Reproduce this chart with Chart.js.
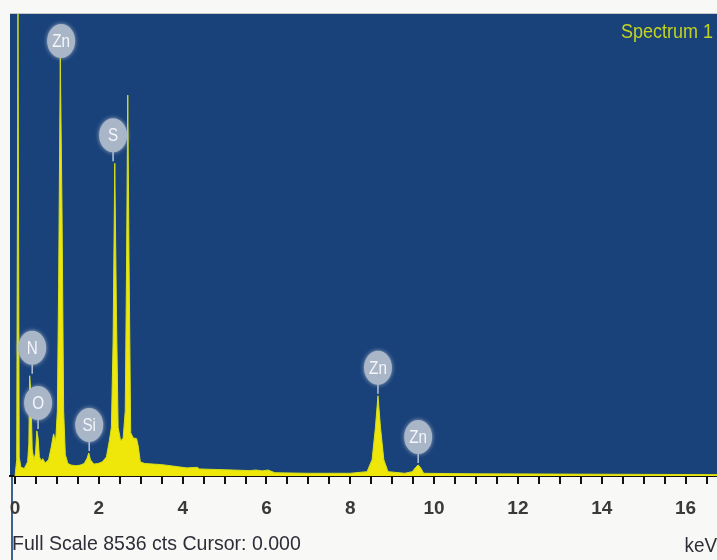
<!DOCTYPE html>
<html>
<head>
<meta charset="utf-8">
<script src="https://cdn.jsdelivr.net/npm/chart.js@4"></script>
<style>
  html, body { margin: 0; padding: 0; background: #f8f8f6; }
  #wrap { width: 717px; height: 560px; }
</style>
</head>
<body>
<div id="wrap"><canvas id="c" width="717" height="560"></canvas></div>
<script>
// spectrum, energy in keV and counts
var energy = [0.00, 0.04, 0.07, 0.10, 0.14, 0.22, 0.30, 0.33, 0.35, 0.38, 0.41, 0.45, 0.49, 0.52, 0.55, 0.58,
  0.62, 0.66, 0.72, 0.80, 0.86, 0.92, 0.97, 1.01, 1.04, 1.08, 1.12, 1.16, 1.20, 1.26, 1.35, 1.45,
  1.55, 1.65, 1.72, 1.76, 1.80, 1.88, 1.98, 2.08, 2.18, 2.25, 2.30, 2.34, 2.38, 2.42, 2.46, 2.52,
  2.58, 2.63, 2.66, 2.69, 2.72, 2.76, 2.82, 2.90, 2.94, 2.99, 3.10, 3.30, 3.50, 3.70, 3.90, 4.10,
  4.35, 4.40, 4.80, 5.20, 5.60, 5.75, 5.90, 6.04, 6.20, 7.00, 8.00, 8.40, 8.52, 8.60, 8.66, 8.72,
  8.80, 8.90, 9.30, 9.48, 9.56, 9.62, 9.68, 9.75, 11.0, 13.0, 15.0, 16.8];
var counts = [0, 300, 8536, 350, 160, 140, 260, 600, 1852, 1500, 500, 300, 420, 833, 700, 360,
  280, 320, 240, 300, 520, 778, 650, 1200, 3500, 7723, 5000, 1200, 400, 230, 200, 190,
  200, 230, 330, 426, 300, 220, 230, 260, 350, 648, 900, 2500, 5778, 3000, 900, 648,
  700, 1200, 3800, 7037, 4000, 800, 704, 690, 550, 260, 230, 220, 210, 190, 170, 150,
  160, 130, 120, 110, 100, 110, 95, 110, 60, 50, 50, 80, 300, 900, 1482, 900,
  300, 80, 50, 80, 160, 204, 150, 50, 40, 35, 30, 25];
var fullScale = 8536;

// element markers
var peakNames = ['Zn', 'S', 'N', 'O', 'Si', 'Zn', 'Zn'];
var peakEnergy = [1.10, 2.34, 0.41, 0.55, 1.77, 8.66, 9.62];
var peakCounts = [7723, 5778, 1852, 833, 426, 1482, 204];

var xTicks = [0, 2, 4, 6, 8, 10, 12, 14, 16];

var sans = '"Liberation Sans", Arial, sans-serif';

var points = energy.map(function(e, i){ return { x: e, y: counts[i] }; });

// squeezed text, the original uses a narrow face
var narrowText = function(ctx, text, x, y, align, squeeze){
  var w = ctx.measureText(text).width * squeeze;
  var left = align === 'right' ? x - w : (align === 'center' ? x - w / 2 : x);
  ctx.save();
  ctx.translate(left, y);
  ctx.scale(squeeze, 1);
  ctx.textAlign = 'left';
  ctx.fillText(text, 0, 0);
  ctx.restore();
};

var eds = {
  id: 'eds',
  beforeDraw: function(chart){
    var ctx = chart.ctx, a = chart.chartArea;
    ctx.save();
    ctx.fillStyle = '#f8f8f6';
    ctx.fillRect(0, 0, chart.width, chart.height);
    ctx.fillStyle = '#c9c9c9';
    ctx.fillRect(a.left, a.top - 1, a.right - a.left, 1);
    ctx.fillStyle = '#1a427a';
    ctx.fillRect(a.left, a.top, a.right - a.left, a.bottom - a.top);
    // window edge on the left
    ctx.fillStyle = '#3d6490';
    ctx.fillRect(a.left + 1, a.bottom, 2, chart.height - a.bottom);
    ctx.restore();
  },
  afterDatasetsDraw: function(chart){
    var ctx = chart.ctx, xs = chart.scales.x, ys = chart.scales.y, a = chart.chartArea;
    ctx.save();
    peakNames.forEach(function(name, i){
      var px = xs.getPixelForValue(peakEnergy[i]), top = ys.getPixelForValue(peakCounts[i]);
      var cy = Math.max(top - 28, a.top + 27);
      // stem
      ctx.strokeStyle = '#b8c4d4';
      ctx.lineWidth = 1.5;
      ctx.beginPath();
      ctx.moveTo(px, cy + 14);
      ctx.lineTo(px, top - 2);
      ctx.stroke();
      // bubble
      ctx.shadowColor = 'rgba(170,184,202,0.9)';
      ctx.shadowBlur = 4;
      ctx.fillStyle = '#a9b6c8';
      ctx.beginPath();
      ctx.ellipse(px, cy, 14, 17, 0, 0, Math.PI * 2);
      ctx.fill();
      ctx.shadowBlur = 0;
      ctx.fillStyle = '#f4f6fa';
      ctx.font = '18px ' + sans;
      ctx.textBaseline = 'middle';
      narrowText(ctx, name, px, cy + 1, 'center', 0.85);
    });
    ctx.restore();
  },
  afterDraw: function(chart){
    var ctx = chart.ctx, a = chart.chartArea;
    ctx.save();
    ctx.font = '20px ' + sans;
    ctx.textBaseline = 'middle';
    ctx.fillStyle = '#c2d41e';
    narrowText(ctx, 'Spectrum 1', a.right - 4, 32, 'right', 0.9);
    ctx.font = '21px ' + sans;
    ctx.fillStyle = '#2e2e38';
    narrowText(ctx, 'Full Scale ' + fullScale + ' cts Cursor: 0.000', 12, 544, 'left', 0.93);
    narrowText(ctx, 'keV', chart.width, 546, 'right', 0.9);
    ctx.restore();
  }
};

new Chart(document.getElementById('c'), {
  type: 'line',
  data: {
    datasets: [{
      label: 'Spectrum 1',
      data: points,
      borderColor: '#d6e01a',
      borderWidth: 1,
      backgroundColor: '#efe60a',
      fill: 'origin',
      pointRadius: 0,
      tension: 0
    }]
  },
  options: {
    responsive: false,
    animation: false,
    layout: { padding: { left: 10, right: 0, top: 14, bottom: 0 } },
    plugins: { legend: { display: false }, tooltip: { enabled: false } },
    scales: {
      x: {
        type: 'linear',
        min: -0.12,
        max: 16.75,
        afterFit: function(scale){
          scale.height = 84;
          scale.paddingLeft = 0;
          scale.paddingRight = 0;
        },
        border: { display: true, color: '#111', width: 2 },
        grid: { drawOnChartArea: false, drawTicks: true, tickLength: 8, color: '#111', lineWidth: 2 },
        ticks: {
          stepSize: 0.5,
          includeBounds: false,
          autoSkip: false,
          maxRotation: 0,
          padding: 13,
          color: '#3a3a3a',
          font: { family: sans, size: 19, weight: 'bold' },
          callback: function(v){ return xTicks.indexOf(v) >= 0 ? String(v) : ''; }
        }
      },
      y: {
        display: false,
        min: 0,
        max: fullScale
      }
    }
  },
  plugins: [eds]
});
</script>
</body>
</html>
